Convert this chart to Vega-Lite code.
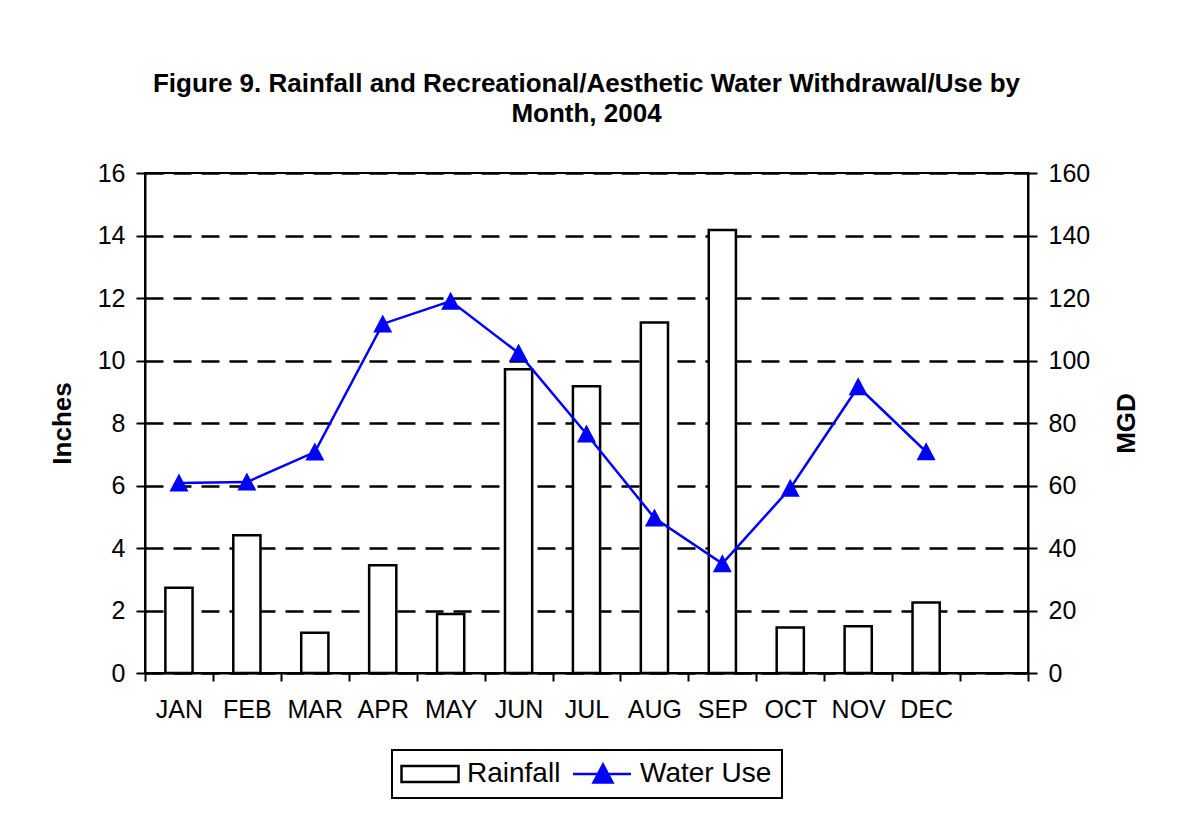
{
  "$schema": "https://vega.github.io/schema/vega-lite/v6.json",
  "width": 883,
  "height": 500,
  "autosize": {"type": "none"},
  "padding": {"left": 145, "top": 173, "right": 154, "bottom": 147},
  "background": "white",
  "title": {
    "text": ["Figure 9. Rainfall and Recreational/Aesthetic Water Withdrawal/Use by", "Month, 2004"],
    "fontSize": 26,
    "fontWeight": "bold",
    "font": "Liberation Sans",
    "color": "black",
    "anchor": "middle",
    "offset": 34,
    "lineHeight": 30
  },
  "data": {
    "values": [
      {"month": "JAN", "rain": 2.73, "use": 60.8},
      {"month": "FEB", "rain": 4.41, "use": 61.1},
      {"month": "MAR", "rain": 1.29, "use": 70.7},
      {"month": "APR", "rain": 3.45, "use": 111.7},
      {"month": "MAY", "rain": 1.89, "use": 119.0},
      {"month": "JUN", "rain": 9.72, "use": 102.4},
      {"month": "JUL", "rain": 9.18, "use": 76.5},
      {"month": "AUG", "rain": 11.22, "use": 49.6},
      {"month": "SEP", "rain": 14.18, "use": 35.0},
      {"month": "OCT", "rain": 1.46, "use": 59.1},
      {"month": "NOV", "rain": 1.50, "use": 91.6},
      {"month": "DEC", "rain": 2.26, "use": 70.8}
    ]
  },
  "encoding": {
    "x": {
      "field": "month",
      "type": "nominal",
      "sort": null,
      "scale": {
        "domain": ["JAN", "FEB", "MAR", "APR", "MAY", "JUN", "JUL", "AUG", "SEP", "OCT", "NOV", "DEC", " "],
        "paddingInner": 0,
        "paddingOuter": 0
      },
      "axis": {
        "title": null,
        "labelAngle": 0,
        "labelFontSize": 25,
        "labelColor": "black",
        "labelPadding": 16,
        "tickBand": "extent",
        "tickSize": 8,
        "tickWidth": 2,
        "tickColor": "black",
        "domainColor": "black",
        "domainWidth": 2,
        "grid": false
      }
    }
  },
  "layer": [
    {
      "mark": {"type": "bar", "strokeWidth": 2.5, "width": {"band": 0.4}},
      "encoding": {
        "y": {
          "field": "rain",
          "type": "quantitative",
          "scale": {"domain": [0, 16], "nice": false},
          "axis": {
            "orient": "left",
            "title": "Inches",
            "values": [0, 2, 4, 6, 8, 10, 12, 14, 16],
            "grid": true,
            "gridColor": "black",
            "gridDash": [18, 10],
            "gridWidth": 2.5,
            "domainColor": "black",
            "domainWidth": 2,
            "tickColor": "black",
            "tickWidth": 2,
            "tickSize": 9,
            "labelFontSize": 25,
            "labelColor": "black",
            "labelPadding": 11,
            "titleFontSize": 26,
            "titleFontWeight": "bold",
            "titleColor": "black",
            "titlePadding": 22
          }
        },
        "fill": {
          "datum": "Rainfall",
          "type": "nominal",
          "scale": {"domain": ["Rainfall", "Water Use"], "range": ["white", "#0000FF"]},
          "legend": {"title": null, "orient": "bottom", "direction": "horizontal"}
        },
        "stroke": {
          "datum": "Rainfall",
          "type": "nominal",
          "scale": {"domain": ["Rainfall", "Water Use"], "range": ["black", "#0000FF"]},
          "legend": {"title": null, "orient": "bottom", "direction": "horizontal"}
        }
      }
    },
    {
      "encoding": {
        "y": {
          "field": "use",
          "type": "quantitative",
          "scale": {"domain": [0, 160], "nice": false},
          "axis": {
            "orient": "right",
            "title": "MGD",
            "values": [0, 20, 40, 60, 80, 100, 120, 140, 160],
            "grid": false,
            "domainColor": "black",
            "domainWidth": 2,
            "tickColor": "black",
            "tickWidth": 2,
            "tickSize": 9,
            "labelFontSize": 25,
            "labelColor": "black",
            "labelPadding": 11,
            "titleFontSize": 26,
            "titleFontWeight": "bold",
            "titleColor": "black",
            "titleAngle": 270,
            "titleBaseline": "top",
            "titlePadding": 24
          }
        }
      },
      "layer": [
        {"mark": {"type": "line", "color": "#0000FF", "strokeWidth": 2.5}},
        {
          "mark": {"type": "point", "filled": true, "fill": "#0000FF", "size": 400, "opacity": 1},
          "encoding": {
            "shape": {
              "datum": "Water Use",
              "type": "nominal",
              "scale": {
                "domain": ["Rainfall", "Water Use"],
                "range": ["M-2.85,-0.8H2.85V0.8H-2.85Z", "M-3,0H2.8M0,-0.95L0.95,0.85H-0.95Z"]
              },
              "legend": {"title": null, "orient": "bottom", "direction": "horizontal"}
            }
          }
        }
      ]
    }
  ],
  "resolve": {"scale": {"y": "independent"}},
  "config": {
    "font": "Liberation Sans",
    "view": {"stroke": "black", "strokeWidth": 2},
    "legend": {
      "labelFontSize": 28,
      "labelColor": "black",
      "labelFont": "Liberation Sans",
      "symbolSize": 400,
      "symbolStrokeWidth": 2.5,
      "symbolOffset": 14,
      "labelOffset": 23,
      "columnPadding": 7,
      "padding": 10,
      "offset": 28,
      "strokeColor": "black",
      "strokeWidth": 2,
      "layout": {"bottom": {"anchor": "middle"}}
    }
  }
}
